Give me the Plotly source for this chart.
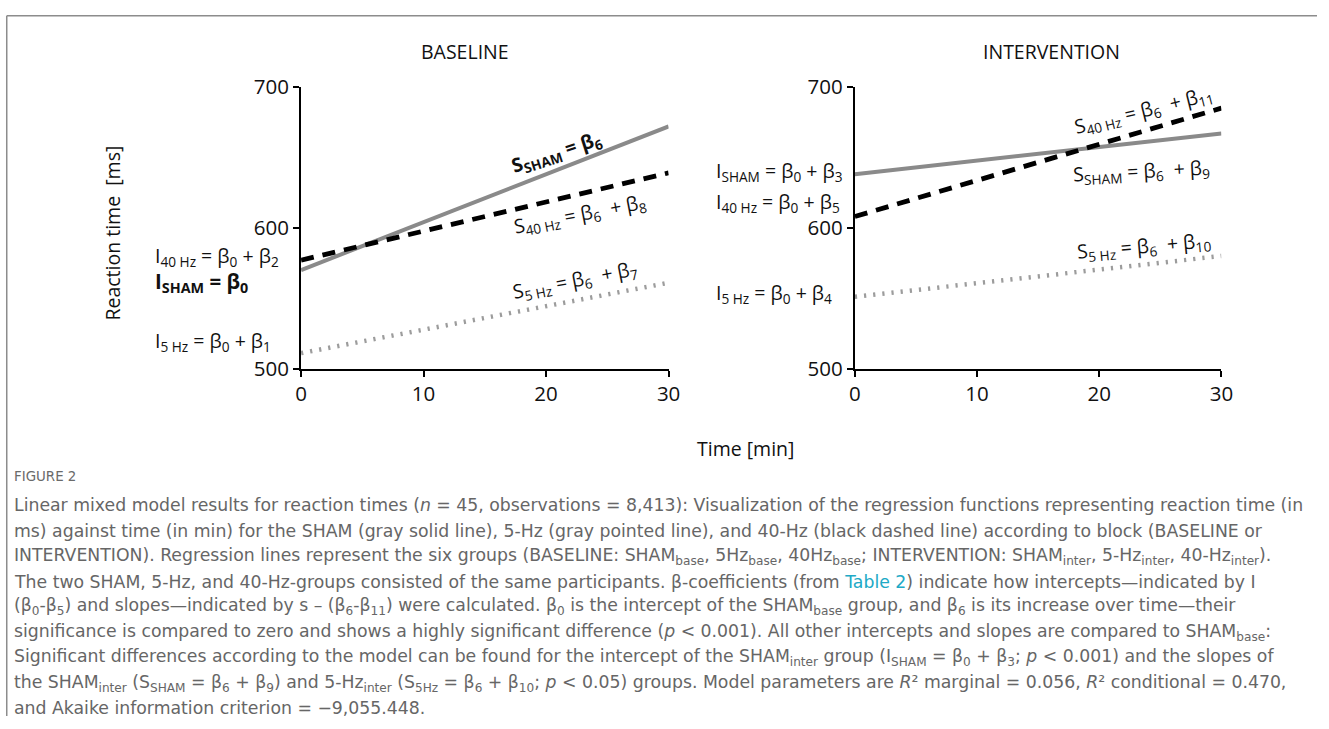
import plotly.graph_objects as go

W, H = 1329, 729

# ---- data ----
time = [0, 30]
base_sham = [570, 672]
base_5hz = [511, 561]
base_40hz = [577, 639]
inter_sham = [638, 667]
inter_5hz = [551, 580]
inter_40hz = [608, 685]

x_ticks = [0, 10, 20, 30]
y_ticks = [500, 600, 700]
panel_titles = ["BASELINE", "INTERVENTION"]

# The photographed page is slightly rescaled relative to the figure's own
# pixel grid; layout positions below are given as they appear in the picture
# and converted to figure pixels here.
SX, SY, OX, OY = 0.985, 0.9627, 8.5, 14.5

def fx(x):
    return x / SX - OX

def fy(y):
    return y / SY - OY

def px(x):
    return fx(x) / W

def py(y):
    return 1 - fy(y) / H

FONT = "Open Sans"
SOLID = "#8a8a8a"
DOT = "#9c9c9c"

fig = go.Figure()

def add_panel(xa, ya, sham, hz5, hz40):
    fig.add_trace(go.Scatter(x=time, y=sham, mode="lines", xaxis=xa, yaxis=ya,
                             line=dict(color=SOLID, width=4), showlegend=False, hoverinfo="skip"))
    fig.add_trace(go.Scatter(x=time, y=hz40, mode="lines", xaxis=xa, yaxis=ya,
                             line=dict(color="#000000", width=4.8, dash="13px,9px"),
                             showlegend=False, hoverinfo="skip"))
    fig.add_trace(go.Scatter(x=time, y=hz5, mode="lines", xaxis=xa, yaxis=ya,
                             line=dict(color=DOT, width=4.5, dash="2.2px,7px"),
                             showlegend=False, hoverinfo="skip"))

add_panel("x", "y", base_sham, base_5hz, base_40hz)
add_panel("x2", "y2", inter_sham, inter_5hz, inter_40hz)

ydom = [py(368), py(86)]
axis_common = dict(showline=True, linecolor="black", linewidth=2, ticks="outside",
                   ticklen=6, tickwidth=2, tickcolor="black", showgrid=False, zeroline=False,
                   tickfont=dict(family=FONT, size=20.5, color="#111"), fixedrange=True)

fig.update_layout(
    width=W, height=H, margin=dict(l=0, r=0, t=0, b=0),
    paper_bgcolor="white", plot_bgcolor="white",
    font=dict(family=FONT, color="#111"),
    xaxis=dict(domain=[px(303), px(670)], range=[0, 30], tickvals=x_ticks, anchor="y", **axis_common),
    yaxis=dict(domain=ydom, range=[500, 700], tickvals=y_ticks, anchor="x", **axis_common),
    xaxis2=dict(domain=[px(856), px(1222)], range=[0, 30], tickvals=x_ticks, anchor="y2", **axis_common),
    yaxis2=dict(domain=ydom, range=[500, 700], tickvals=y_ticks, anchor="x2", **axis_common),
)

ann = []

def A(text, x, y, size=19.5, angle=0, xanchor="center", color="#111", yanchor="middle", family=FONT):
    ann.append(dict(text=text, x=px(x), y=py(y), xref="paper", yref="paper", showarrow=False,
                    xanchor=xanchor, yanchor=yanchor, textangle=angle,
                    font=dict(family=family, size=size, color=color)))

# titles
A(panel_titles[0], 467, 51)
A(panel_titles[1], 1052, 51)
A("Reaction time  [ms]", 115, 232, angle=-90)
A("Time [min]", 747, 448)

# baseline labels
A("I<sub>40 Hz</sub> = β<sub>0</sub> + β<sub>2</sub>", 155, 256, xanchor="left")
A("<b>I<sub>SHAM</sub> = β<sub>0</sub></b>", 155, 281, xanchor="left", size=20.5)
A("I<sub>5 Hz</sub> = β<sub>0</sub> + β<sub>1</sub>", 155, 341, xanchor="left")
A("<b>S<sub>SHAM</sub> = β<sub>6</sub></b>", 558, 152, angle=-18)
A("S<sub>40 Hz</sub> = β<sub>6</sub>  + β<sub>8</sub>", 582, 214, angle=-11)
A("S<sub>5 Hz</sub> = β<sub>6</sub>  + β<sub>7</sub>", 577, 280, angle=-11)

# intervention labels
A("I<sub>SHAM</sub> = β<sub>0</sub> + β<sub>3</sub>", 715, 171, xanchor="left")
A("I<sub>40 Hz</sub> = β<sub>0</sub> + β<sub>5</sub>", 715, 202, xanchor="left")
A("I<sub>5 Hz</sub> = β<sub>0</sub> + β<sub>4</sub>", 715, 293, xanchor="left")
A("S<sub>40 Hz</sub> = β<sub>6</sub>  + β<sub>11</sub>", 1145, 110, angle=-14)
A("S<sub>SHAM</sub> = β<sub>6</sub>  + β<sub>9</sub>", 1142, 171, angle=-3)
A("S<sub>5 Hz</sub> = β<sub>6</sub>  + β<sub>10</sub>", 1145, 246, angle=-5)

# caption
CAP = "#666666"
CAPFONT = "DejaVu Sans"
A("FIGURE 2", 14, 476, size=13.4, xanchor="left", color="#6a6a6a", family=CAPFONT)
caption = [
    "Linear mixed model results for reaction times (<i>n</i> = 45, observations = 8,413): Visualization of the regression functions representing reaction time (in",
    "ms) against time (in min) for the SHAM (gray solid line), 5-Hz (gray pointed line), and 40-Hz (black dashed line) according to block (BASELINE or",
    "INTERVENTION). Regression lines represent the six groups (BASELINE: SHAM<sub>base</sub>, 5Hz<sub>base</sub>, 40Hz<sub>base</sub>; INTERVENTION: SHAM<sub>inter</sub>, 5-Hz<sub>inter</sub>, 40-Hz<sub>inter</sub>).",
    "The two SHAM, 5-Hz, and 40-Hz-groups consisted of the same participants. β-coefficients (from <span style='color:#20a9c6'>Table 2</span>) indicate how intercepts—indicated by I",
    "(β<sub>0</sub>-β<sub>5</sub>) and slopes—indicated by s – (β<sub>6</sub>-β<sub>11</sub>) were calculated. β<sub>0</sub> is the intercept of the SHAM<sub>base</sub> group, and β<sub>6</sub> is its increase over time—their",
    "significance is compared to zero and shows a highly significant difference (<i>p</i> &lt; 0.001). All other intercepts and slopes are compared to SHAM<sub>base</sub>:",
    "Significant differences according to the model can be found for the intercept of the SHAM<sub>inter</sub> group (I<sub>SHAM</sub> = β<sub>0</sub> + β<sub>3</sub>; <i>p</i> &lt; 0.001) and the slopes of",
    "the SHAM<sub>inter</sub> (S<sub>SHAM</sub> = β<sub>6</sub> + β<sub>9</sub>) and 5-Hz<sub>inter</sub> (S<sub>5Hz</sub> = β<sub>6</sub> + β<sub>10</sub>; <i>p</i> &lt; 0.05) groups. Model parameters are <i>R</i>² marginal = 0.056, <i>R</i>² conditional = 0.470,",
    "and Akaike information criterion = −9,055.448.",
]
y0 = 505
for i, line in enumerate(caption):
    A(line, 14, y0 + i * 25.4, size=17.3, xanchor="left", color=CAP, family=CAPFONT)

fig.update_layout(annotations=ann)

# page frame (top edge sits as high as the figure allows)
left_x = max(fx(8), 0.75) / W
top_y = 1 - max(fy(8), 0.75) / H
fig.add_shape(type="line", xref="paper", yref="paper", x0=left_x, x1=left_x, y0=0, y1=top_y,
              line=dict(color="#8c8c8c", width=1.5))
fig.add_shape(type="line", xref="paper", yref="paper", x0=left_x, x1=1, y0=top_y, y1=top_y,
              line=dict(color="#8c8c8c", width=1.5))

fig.write_html("out.html", config={"displayModeBar": False})
